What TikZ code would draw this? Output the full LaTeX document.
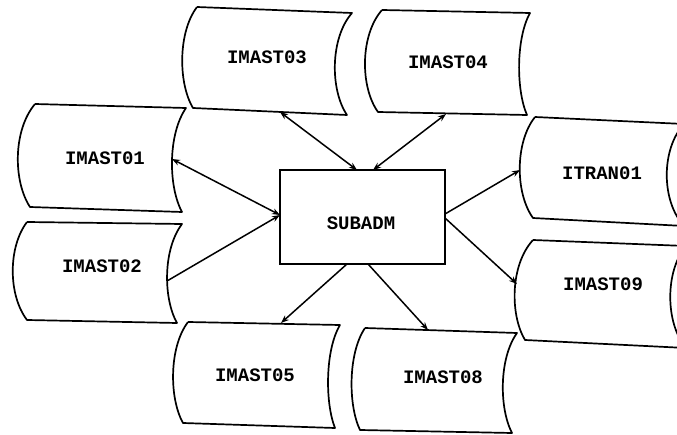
\documentclass[tikz,border=0pt]{standalone}
\usepackage{fontspec}
\setmonofont{Liberation Mono}
\usetikzlibrary{arrows.meta}
\begin{document}
\begin{tikzpicture}[x=1pt,y=-1pt,
  outline/.style={line width=1.7pt, line join=round},
  lbl/.style={font=\ttfamily\bfseries\fontsize{19}{22}\selectfont, inner sep=0pt},
  box/.style={draw, line width=1.7pt, minimum width=165pt, minimum height=94pt, inner sep=0pt},
  link/.style={line width=1.5pt, -{Stealth[length=8pt,width=6pt]}},
  both/.style={line width=1.5pt, {Stealth[length=8pt,width=6pt]}-{Stealth[length=8pt,width=6pt]}}]
\useasboundingbox (0,0) rectangle (677,435);
\clip (0,0) rectangle (677,435);

% stored-data shapes
\draw[outline] (35,104) -- (186,108) .. controls (168,134) and (168,186) .. (182,212) -- (30,207) .. controls (13,181) and (13,130) .. (35,104);
\draw[outline] (27,222) -- (182,224) .. controls (163,249) and (163,298) .. (177,323) -- (27,320) .. controls (8,295) and (8,247) .. (27,222);
\draw[outline] (197,7) -- (352,13) .. controls (330,38) and (330,90) .. (347,115) -- (193,108) .. controls (178,83) and (178,32) .. (197,7);
\draw[outline] (382,10) -- (530,13) .. controls (516,38) and (516,90) .. (527,115) -- (378,112) .. controls (360,87) and (360,35) .. (382,10);
\draw[outline] (535,117) -- (684,124) .. controls (661,149) and (661,201) .. (684,226) -- (533,218) .. controls (515,193) and (515,142) .. (535,117);
\draw[outline] (533,240) -- (686,246) .. controls (665,271) and (665,323) .. (686,348) -- (525,340) .. controls (510,315) and (510,265) .. (533,240);
\draw[outline] (188,322) -- (340,325) .. controls (325,350) and (325,403) .. (335,428) -- (183,423) .. controls (169,398) and (169,347) .. (188,322);
\draw[outline] (365,328) -- (517,333) .. controls (499,358) and (499,408) .. (512,433) -- (360,430) .. controls (348,405) and (348,353) .. (365,328);

% labels
\node[lbl] (m01) at (105,158) {IMAST01};
\node[lbl] (m02) at (102,266) {IMAST02};
\node[lbl] (m03) at (267,57) {IMAST03};
\node[lbl] (m04) at (448,62) {IMAST04};
\node[lbl] (tr01) at (602,173) {ITRAN01};
\node[lbl] (m09) at (603,284) {IMAST09};
\node[lbl] (m05) at (255,375) {IMAST05};
\node[lbl] (m08) at (443,377) {IMAST08};
\node[box] (sub) at (362.5,217) {};
\node[lbl] (subt) at (361,223) {SUBADM};

% connector ends
\coordinate (p01) at (172,159);
\coordinate (p02) at (167,281);
\coordinate (p03) at (280,112);
\coordinate (p04) at (446,114);
\coordinate (ptr) at (520,170);
\coordinate (p09) at (517,284);
\coordinate (p05) at (281,323);
\coordinate (p08) at (428,330);
\coordinate (sL) at (280,215);
\coordinate (sT1) at (357,170);
\coordinate (sT2) at (373,170);
\coordinate (sR1) at (445,214);
\coordinate (sR2) at (445,218);
\coordinate (sB1) at (347,264);
\coordinate (sB2) at (368,264);

\draw[both] (p01) -- (sL);
\draw[link] (p02) -- (sL);
\draw[both] (p03) -- (sT1);
\draw[both] (p04) -- (sT2);
\draw[link] (sR1) -- (ptr);
\draw[link] (sR2) -- (p09);
\draw[link] (sB1) -- (p05);
\draw[link] (sB2) -- (p08);
\end{tikzpicture}
\end{document}
